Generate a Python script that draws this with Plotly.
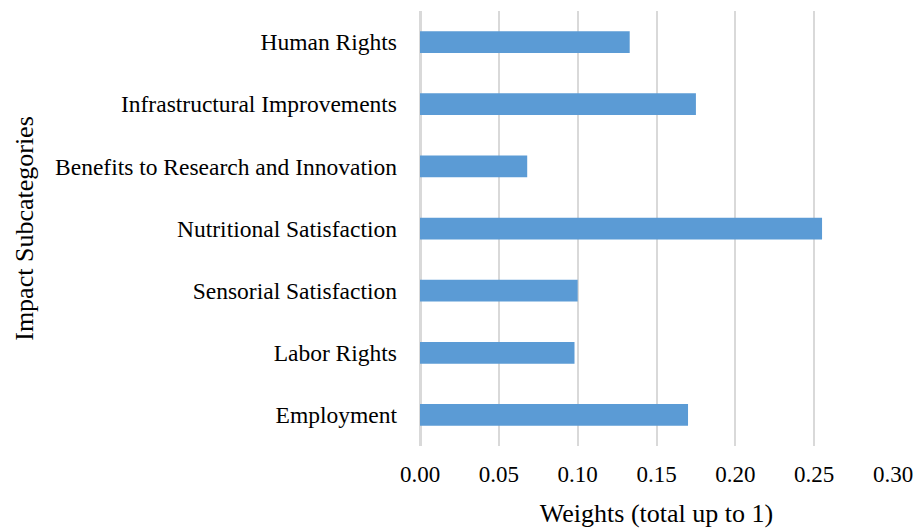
import plotly.graph_objects as go

# Impact subcategories, listed bottom to top
categories = [
    "Employment",
    "Labor Rights",
    "Sensorial Satisfaction",
    "Nutritional Satisfaction",
    "Benefits to Research and Innovation",
    "Infrastructural Improvements",
    "Human Rights",
]
weights = [0.170, 0.098, 0.100, 0.255, 0.068, 0.175, 0.133]

x_ticks = [0.00, 0.05, 0.10, 0.15, 0.20, 0.25, 0.30]
x_tick_labels = ["0.00", "0.05", "0.10", "0.15", "0.20", "0.25", "0.30"]

FONT = "Liberation Serif, Times New Roman, serif"

fig = go.Figure(
    go.Bar(
        y=categories,
        x=weights,
        orientation="h",
        marker=dict(color="#5B9BD5", line=dict(width=0)),
        hoverinfo="x+y",
    )
)

fig.update_layout(
    width=917,
    height=528,
    margin=dict(l=420, r=24, t=11, b=82),
    paper_bgcolor="white",
    plot_bgcolor="white",
    bargap=0.65,
    showlegend=False,
    font=dict(family=FONT, size=21, color="#000000"),
)

fig.update_xaxes(
    range=[0, 0.30],
    tickvals=x_ticks,
    ticktext=x_tick_labels,
    showgrid=True,
    gridcolor="#d9d9d9",
    gridwidth=1.5,
    zeroline=True,
    zerolinecolor="#d9d9d9",
    zerolinewidth=2.5,
    showline=False,
    ticks="",
    automargin=False,
    ticklabelstandoff=12,
    tickfont=dict(family=FONT, size=23, color="#000000"),
    title=dict(text="Weights (total up to 1)", standoff=22,
               font=dict(family=FONT, size=26, color="#000000")),
)

fig.update_yaxes(
    categoryorder="array",
    categoryarray=categories,
    range=[-0.5, 6.5],
    showgrid=False,
    zeroline=False,
    showline=False,
    ticks="",
    automargin=False,
    ticklabelstandoff=22,
    tickfont=dict(family=FONT, size=23.5, color="#000000"),
    title=dict(text="Impact Subcategories", standoff=13,
               font=dict(family=FONT, size=26, color="#000000")),
)

fig.write_html("out.html")
